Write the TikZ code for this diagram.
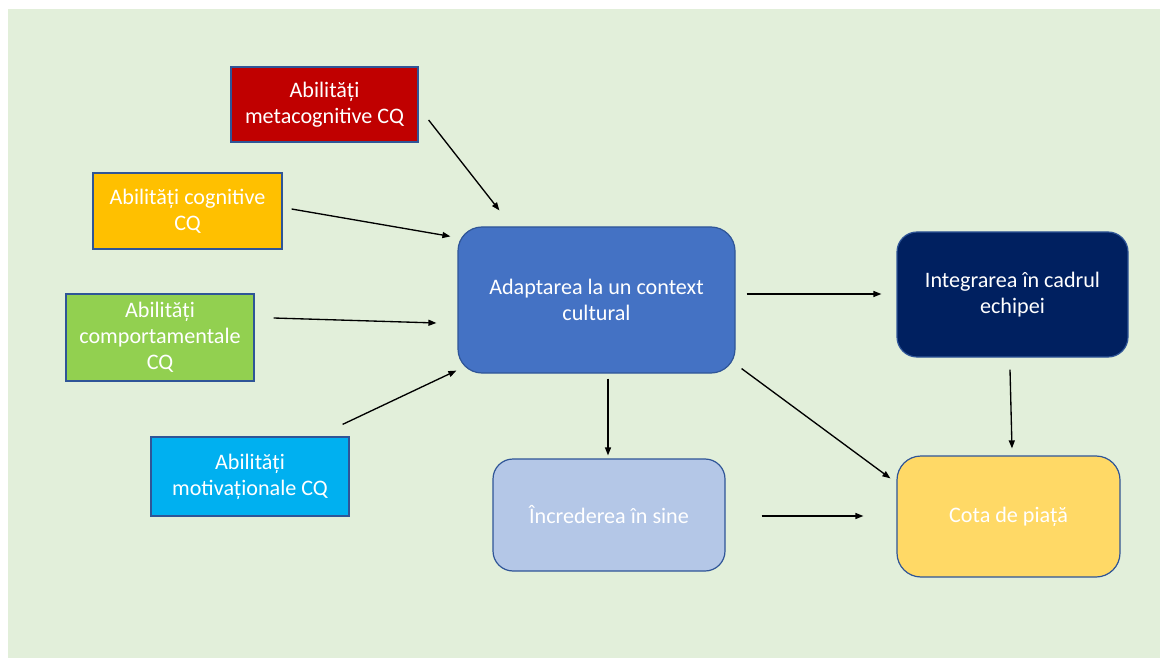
\documentclass[tikz,border=0pt]{standalone}
\usepackage{fontspec}
\setmainfont{Carlito}
\usetikzlibrary{arrows.meta,calc}
\definecolor{bgGreen}{HTML}{E2EFDA}
\definecolor{boxEdge}{HTML}{2F5597}
\definecolor{metaRed}{HTML}{C00000}
\definecolor{cogYellow}{HTML}{FFC000}
\definecolor{compGreen}{HTML}{92D050}
\definecolor{motivBlue}{HTML}{00B0F0}
\definecolor{adaptBlue}{HTML}{4472C4}
\definecolor{integNavy}{HTML}{002060}
\definecolor{incrBlue}{HTML}{B4C7E7}
\definecolor{cotaGold}{HTML}{FFD966}
\begin{document}
\begin{tikzpicture}[x=0.75pt,y=-0.75pt,
  box/.style={draw=boxEdge, line width=0.9pt, text=white, align=center, inner sep=0pt, font=\fontsize{16.6}{19.6}\selectfont},
  roundbox/.style={box, rounded corners=18pt},
  arr/.style={-{Triangle[length=6pt,width=4.5pt]}, line width=1pt}]
\useasboundingbox (0,0) rectangle (1167,659);
\fill[bgGreen] (8,9) rectangle (1160,658);

% CQ abilities
\node[box, fill=metaRed, minimum width=140.25pt, minimum height=56.25pt] (meta) at (324.5,104.5) {Abilități\\metacognitive CQ};
\node[box, fill=cogYellow, minimum width=141.75pt, minimum height=57pt] (cog) at (187.5,211) {Abilități cognitive\\CQ};
\node[box, fill=compGreen, minimum width=141pt, minimum height=65.25pt] (comp) at (160,337.5) {Abilități\\comportamentale\\CQ};
\node[box, fill=motivBlue, minimum width=148.5pt, minimum height=59.25pt] (motiv) at (250,476.5) {Abilități\\motivaționale CQ};

% outcomes
\node[roundbox, fill=adaptBlue, minimum width=207.75pt, minimum height=109.5pt] (adapt) at (596.5,300) {Adaptarea la un context\\cultural};
\node[roundbox, rounded corners=15pt, fill=integNavy, minimum width=173.25pt, minimum height=93.75pt] (integ) at (1012.5,294.5) {Integrarea în cadrul\\echipei};
\node[roundbox, rounded corners=15pt, fill=incrBlue, minimum width=174pt, minimum height=84pt] (incr) at (609,515) {Încrederea în sine};
\node[roundbox, fill=cotaGold, minimum width=167.25pt, minimum height=90.75pt] (cota) at (1008.5,516.5) {Cota de piață};

\draw[arr] ($(meta.east)+(10,15.5)$) -- ($(adapt.north west)+(42,-16)$);
\draw[arr] ($(cog.east)+(9,-2)$) -- ($(adapt.north west)+(-7,10)$);
\draw[arr] ($(comp.east)+(19,-19.5)$) -- ($(adapt.west)+(-21,23)$);
\draw[arr] ($(motiv.north east)+(-7,-12)$) -- ($(adapt.south west)+(-1,-3)$);
\draw[arr] ($(adapt.east)+(11,-6)$) -- ($(integ.west)+(-15,-0.5)$);
\draw[arr] ($(adapt.south)+(11.5,5)$) -- ($(incr.north)+(-1,-3)$);
\draw[arr] ($(adapt.south east)+(6,-5)$) -- ($(cota.north west)+(-6,23)$);
\draw[arr] ($(integ.south)+(-2.5,12)$) -- ($(cota.north)+(3.5,-7)$);
\draw[arr] ($(incr.east)+(36,1)$) -- ($(cota.west)+(-33,-0.5)$);
\end{tikzpicture}
\end{document}
